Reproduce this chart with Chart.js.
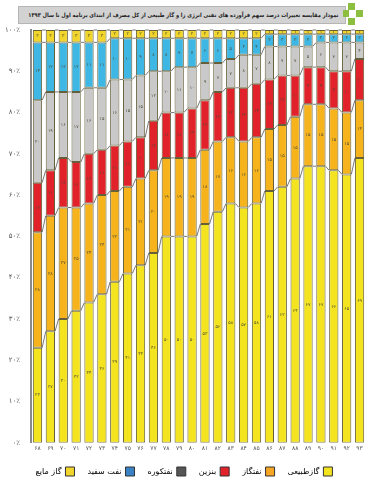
<!DOCTYPE html>
<html>
<head>
<meta charset="utf-8">
<script src="https://cdn.jsdelivr.net/npm/chart.js@4"></script>
<style>
  body { margin: 0; background: #fff; }
  #wrap { position: relative; width: 374px; height: 502px; }
  #title {
    position: absolute; left: 18px; top: 6px; width: 320px; height: 16px;
    background: #d2d2d2; border: 1px solid #b5b5b5;
    font: bold 5.8px "DejaVu Sans", sans-serif; color: #222;
    direction: rtl; text-align: right; line-height: 16px; padding-right: 6px;
    white-space: nowrap; overflow: hidden;
  }
  #title span { display: inline-block; transform: scaleX(0.88); transform-origin: right center; }
  .g { position: absolute; background: #8cbf3f; width: 7px; height: 7px; }
</style>
</head>
<body>
<div id="wrap">
  <canvas id="myChartBar" width="374" height="502"></canvas>
  <div id="title"><span>نمودار مقایسه تغییرات درصد سهم فرآورده های نفتی انرژی زا و گاز طبیعی از کل مصرف از ابتدای برنامه اول تا سال ۱۳۹۳</span></div>
  <div class="g" style="left:348px;top:3px"></div>
  <div class="g" style="left:348px;top:18px"></div>
  <div class="g" style="left:356px;top:10px"></div>
  <div class="g" style="left:343px;top:10px;width:6px"></div>
</div>
<script>
const years = [68, 69, 70, 71, 72, 73, 74, 75, 76, 77, 78, 79, 80, 81, 82, 83, 84, 85, 86, 87, 88, 89, 90, 91, 92, 93]
const naturalGas = [23, 27, 30, 32, 34, 36, 39, 41, 43, 46, 50, 50, 50, 53, 56, 58, 57, 58, 61, 62, 64, 67, 67, 66, 65, 69]
const gasOil = [28, 28, 27, 25, 24, 24, 22, 21, 21, 20, 19, 19, 19, 18, 17, 16, 16, 16, 15, 15, 15, 15, 15, 15, 15, 14]
const gasoline = [12, 11, 12, 11, 12, 11, 11, 11, 10, 12, 11, 11, 12, 12, 12, 12, 13, 13, 12, 12, 10, 9, 9, 9, 10, 10]
const fuelOil = [20, 19, 16, 17, 16, 15, 16, 15, 15, 12, 10, 11, 10, 9, 7, 7, 8, 7, 8, 7, 7, 5, 6, 7, 7, 4]
const kerosene = [14, 12, 12, 12, 11, 11, 10, 10, 9, 8, 8, 7, 7, 6, 6, 5, 4, 4, 3, 3, 3, 3, 2, 2, 2, 2]
const lpg = [3, 3, 3, 3, 3, 3, 2, 2, 2, 2, 2, 2, 2, 2, 2, 2, 2, 2, 1, 1, 1, 1, 1, 1, 1, 1]
const yTicks = [0, 10, 20, 30, 40, 50, 60, 70, 80, 90, 100]

const faDigits = '۰۱۲۳۴۵۶۷۸۹'
const toFa = n => String(n).replace(/[0-9]/g, d => faDigits[d])

const edge = '#66603a'
const series = [
    { label: 'گازطبیعی', data: naturalGas, color: '#f4e41f', legend: '#f4e41f' },
    { label: 'نفتگاز', data: gasOil, color: '#f6b31c', legend: '#f6a623' },
    { label: 'بنزین', data: gasoline, color: '#e2222a', legend: '#e2222a' },
    { label: 'نفتکوره', data: fuelOil, color: '#c9c9c9', legend: '#555555' },
    { label: 'نفت سفید', data: kerosene, color: '#3fb7e4', legend: '#3b82c4' },
    { label: 'گاز مایع', data: lpg, color: '#f1d52a', legend: '#f1d52a' }
]

// thin lines joining segment tops between neighbouring bars, plus small value labels
const barExtras = {
    id: 'barExtras',
    afterDatasetsDraw(chart) {
        const ctx = chart.ctx
        ctx.save()
        chart.data.datasets.forEach((ds, di) => {
            const bars = chart.getDatasetMeta(di).data
            ctx.strokeStyle = '#555'
            ctx.lineWidth = 0.8
            ctx.beginPath()
            for (let i = 0; i < bars.length - 1; i++) {
                const a = bars[i], b = bars[i + 1]
                ctx.moveTo(a.x + a.width / 2, a.y)
                ctx.lineTo(b.x - b.width / 2, b.y)
            }
            ctx.stroke()
            ctx.fillStyle = '#4a4a35'
            ctx.font = '4.5px "DejaVu Sans"'
            ctx.textAlign = 'center'
            ctx.textBaseline = 'middle'
            bars.forEach((bar, i) => {
                ctx.fillText(toFa(ds.data[i]), bar.x, (bar.y + bar.base) / 2)
            })
        })
        ctx.restore()
    }
}

const ctxB = document.getElementById('myChartBar').getContext('2d')
const configB = {
    type: 'bar',
    data: {
        labels: years.map(toFa),
        datasets: series.map(s => ({
            label: s.label,
            data: s.data,
            backgroundColor: s.color,
            borderColor: edge,
            borderWidth: 1,
            borderSkipped: false,
            barPercentage: 0.72,
            categoryPercentage: 1
        }))
    },
    options: {
        responsive: false,
        animation: false,
        layout: { padding: { top: 30, right: 8, left: 2, bottom: 16 } },
        scales: {
            x: {
                stacked: true,
                grid: { display: false, drawTicks: false },
                border: { display: false },
                ticks: { color: '#555', font: { family: 'DejaVu Sans', size: 6 }, maxRotation: 0, autoSkip: false, padding: 2 }
            },
            y: {
                stacked: true,
                min: 0,
                max: 100,
                afterBuildTicks: axis => { axis.ticks = yTicks.map(v => ({ value: v })) },
                grid: { display: false },
                border: { color: '#8a8a8a', width: 2 },
                ticks: { color: '#555', font: { family: 'DejaVu Sans', size: 7 }, padding: 3, callback: v => toFa(v) + '٪' }
            }
        },
        plugins: {
            tooltip: { enabled: false },
            legend: {
                position: 'bottom',
                rtl: true,
                textDirection: 'rtl',
                labels: {
                    color: '#333',
                    font: { family: 'DejaVu Sans', size: 8 },
                    boxWidth: 9,
                    boxHeight: 9,
                    padding: 13,
                    generateLabels: chart => series.map((s, i) => ({
                        text: s.label,
                        fillStyle: s.legend,
                        strokeStyle: '#333',
                        lineWidth: 1,
                        datasetIndex: i
                    }))
                }
            }
        }
    },
    plugins: [barExtras]
}
const myChartB = new Chart(ctxB, configB)
</script>
</body>
</html>
